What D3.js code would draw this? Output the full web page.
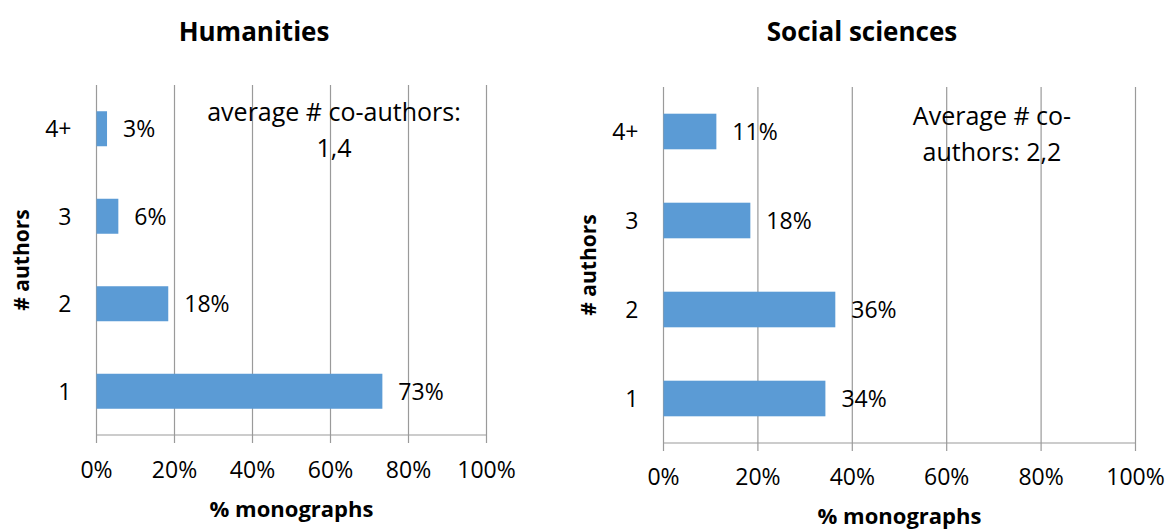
<!DOCTYPE html>
<html>
<head>
<meta charset="utf-8">
<script src="https://cdn.jsdelivr.net/npm/d3@7"></script>
<style>
  body { margin: 0; background: #fff; }
  text { font-family: "Open Sans", Lato, sans-serif; fill: #000; }
</style>
</head>
<body>
<svg id="chart" width="1167" height="529"></svg>
<script>
// Dados
const categorias = ["4+", "3", "2", "1"];
const valoresHumanidades = [2.7, 5.6, 18.4, 73.3];
const valoresSociais = [11.2, 18.4, 36.4, 34.3];
const ticksX = [0, 20, 40, 60, 80, 100];
const notaHumanidades = ["average # co-authors:", "1,4"];
const notaSociais = ["Average # co-", "authors: 2,2"];

const svg = d3.select("#chart");
const corBarra = "#5b9bd5";
const corGrade = "#9a9a9a";

const paineis = [
  { titulo: "Humanities", valores: valoresHumanidades, nota: notaHumanidades,
    x0: 96.5, x1: 486.5, top: 85, bottom: 435, tituloX: 254,
    notaX: 334, notaY: 121, yTituloX: 29, xTituloY: 517, tickY: 478 },
  { titulo: "Social sciences", valores: valoresSociais, nota: notaSociais,
    x0: 663.5, x1: 1135.5, top: 87, bottom: 443, tituloX: 862,
    notaX: 992, notaY: 125, yTituloX: 596, xTituloY: 524, tickY: 485 }
];

paineis.forEach(p => desenharPainel(p));

function desenharPainel(p) {
  const g = svg.append("g");

  const x = d3.scaleLinear().domain([0, 100]).range([p.x0, p.x1]);
  const y = d3.scaleBand()
    .domain(categorias)
    .range([p.top, p.bottom])
    .paddingInner(0.6)
    .paddingOuter(0.3);

  // linhas de grade verticais
  g.selectAll(".grade")
    .data(ticksX)
    .join("line")
    .attr("x1", d => x(d)).attr("x2", d => x(d))
    .attr("y1", p.top).attr("y2", p.bottom + 8)
    .attr("stroke", corGrade)
    .attr("stroke-width", 1.2);

  // eixo inferior
  g.append("line")
    .attr("x1", x(0)).attr("x2", x(100))
    .attr("y1", p.bottom).attr("y2", p.bottom)
    .attr("stroke", corGrade)
    .attr("stroke-width", 1.2);

  g.selectAll(".tick")
    .data(ticksX)
    .join("text")
    .attr("x", d => x(d))
    .attr("y", p.tickY)
    .attr("text-anchor", "middle")
    .attr("font-size", 23)
    .text(d => d + "%");

  // barras
  g.selectAll(".barra")
    .data(p.valores)
    .join("rect")
    .attr("x", x(0))
    .attr("y", (d, i) => y(categorias[i]))
    .attr("width", d => x(d) - x(0))
    .attr("height", y.bandwidth())
    .attr("fill", corBarra);

  // rótulos das barras
  g.selectAll(".rotulo")
    .data(p.valores)
    .join("text")
    .attr("x", d => x(d) + 16)
    .attr("y", (d, i) => y(categorias[i]) + y.bandwidth() / 2)
    .attr("dy", "0.36em")
    .attr("font-size", 23)
    .text(d => Math.round(d) + "%");

  // categorias
  g.selectAll(".cat")
    .data(categorias)
    .join("text")
    .attr("x", p.x0 - 25)
    .attr("y", d => y(d) + y.bandwidth() / 2)
    .attr("dy", "0.36em")
    .attr("text-anchor", "end")
    .attr("font-size", 23)
    .text(d => d);

  // título
  g.append("text")
    .attr("x", p.tituloX).attr("y", 41)
    .attr("text-anchor", "middle")
    .attr("font-size", 26)
    .attr("font-weight", "bold")
    .text(p.titulo);

  // título eixo x
  g.append("text")
    .attr("x", (p.x0 + p.x1) / 2).attr("y", p.xTituloY)
    .attr("text-anchor", "middle")
    .attr("font-size", 22)
    .attr("font-weight", "bold")
    .text("% monographs");

  // título eixo y
  g.append("text")
    .attr("transform", `translate(${p.yTituloX},${(p.top + p.bottom) / 2}) rotate(-90)`)
    .attr("text-anchor", "middle")
    .attr("font-size", 21)
    .attr("font-weight", "bold")
    .text("# authors");

  // nota
  g.selectAll(".nota")
    .data(p.nota)
    .join("text")
    .attr("x", p.notaX)
    .attr("y", (d, i) => p.notaY + i * 36)
    .attr("text-anchor", "middle")
    .attr("font-size", 25)
    .text(d => d);
}
</script>
</body>
</html>
